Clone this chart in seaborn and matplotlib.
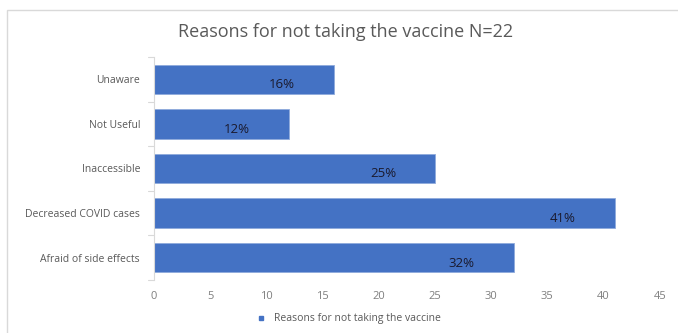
import matplotlib
matplotlib.use("Agg")
import matplotlib.pyplot as plt
import seaborn as sns
import pandas as pd
from matplotlib.patches import Rectangle
from matplotlib.lines import Line2D

categories = ["Unaware", "Not Useful", "Inaccessible", "Decreased COVID cases", "Afraid of side effects"]
values = [16, 12, 25, 41, 32]
labels = ["16%", "12%", "25%", "41%", "32%"]
series_name = "Reasons for not taking the vaccine"
title = "Reasons for not taking the vaccine N=22"
xticks = [0, 5, 10, 15, 20, 25, 30, 35, 40, 45]

sns.set_theme(style="white")
plt.rcParams['font.family'] = ['Open Sans', 'DejaVu Sans']

df = pd.DataFrame({"cat": categories, "val": values})

fig = plt.figure(figsize=(6.78, 3.33), dpi=100)
ax = fig.add_axes([0.227, 0.159, 0.746, 0.67])
sns.barplot(data=df, y="cat", x="val", order=categories, color="#4472C4",
            saturation=1, width=0.66, ax=ax, edgecolor="#8FAADC", linewidth=0.6)

ax.set_xlim(0, 45)
ax.set_xticks(xticks)
ax.set_xticklabels([str(t) for t in xticks], color="#7F7F7F", fontsize=8)
ax.set_ylabel("")
ax.set_xlabel("")
ax.tick_params(axis="y", labelsize=7.5, labelcolor="#595959", length=0, pad=10)
ax.tick_params(axis="x", length=0, pad=8)
for s in ["top", "right", "bottom"]:
    ax.spines[s].set_visible(False)
ax.spines["left"].set_color("#D9D9D9")
ax.spines["left"].set_linewidth(0.8)
ax.set_ylim(4.5, -0.5)

# category boundary tick marks on y axis
for b in [i - 0.5 for i in range(len(categories) + 1)]:
    ax.plot([-0.5, 0], [b, b], color="#D9D9D9", lw=0.8, clip_on=False, transform=ax.transData)

for i, (v, lab) in enumerate(zip(values, labels)):
    ax.text(v - 4.6, i + 0.12, lab, ha="center", va="center", fontsize=9.5,
            color="#1a1a2e", fontweight="medium")

fig.text(0.51, 0.905, title, ha="center", va="center", fontsize=13, color="#595959")

handle = Line2D([], [], marker="s", linestyle="none", color="#4472C4", markersize=3.5)
fig.legend([handle], [series_name], loc="center", bbox_to_anchor=(0.51, 0.043),
           frameon=False, fontsize=7.5, labelcolor="#595959", handletextpad=0.2)

fig.patches.append(Rectangle((0.010, -0.01), 1.0, 0.98, transform=fig.transFigure,
                             fill=False, edgecolor="#D9D9D9", linewidth=1))

fig.savefig("out.png", dpi=100)
